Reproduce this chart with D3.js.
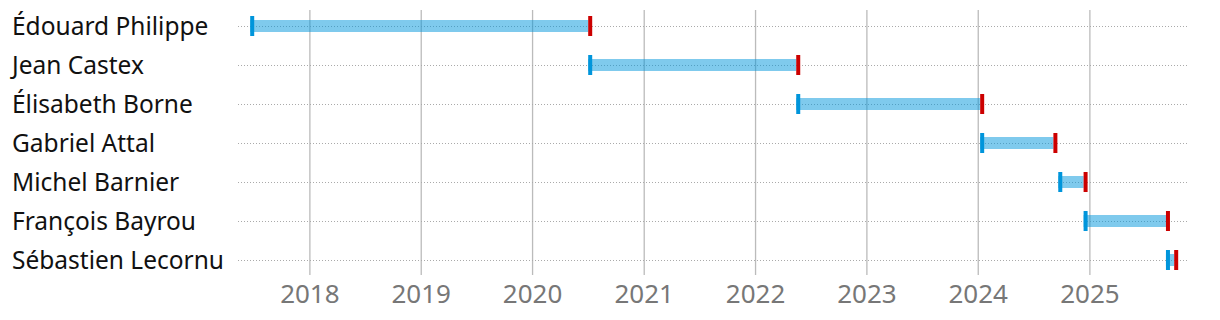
<!DOCTYPE html>
<html>
<head>
<meta charset="utf-8">
<script src="https://cdn.jsdelivr.net/npm/d3@7"></script>
<style>
  body { margin: 0; background: #fff; }
  text { font-family: "Noto Sans", sans-serif; }
</style>
</head>
<body>
<script>
const names = ['Édouard Philippe', 'Jean Castex', 'Élisabeth Borne', 'Gabriel Attal',
  'Michel Barnier', 'François Bayrou', 'Sébastien Lecornu'];
const starts = ['2017-06-21', '2020-07-03', '2022-05-16', '2024-01-09',
  '2024-09-21', '2024-12-13', '2025-09-09'];
const ends = ['2020-07-03', '2022-05-16', '2024-01-09', '2024-09-05',
  '2024-12-13', '2025-09-09', '2025-10-06'];
const years = [2018, 2019, 2020, 2021, 2022, 2023, 2024, 2025];
const domain = ['2017-05-12', '2025-11-17'];

const parse = d3.utcParse('%Y-%m-%d');
const rows = names.map((n, i) => ({ name: n, start: parse(starts[i]), end: parse(ends[i]) }));

class Timeline {
  constructor(rows) {
    this.rows = rows;
    this.width = 1220;
    this.height = 320;
    this.blue = '#0095db';
    this.red = '#cc0000';
    this.markW = 4;
    this.markH = 20;
    this.barH = 12;

    this.x = d3.scaleUtc()
      .domain(domain.map(parse))
      .range([238, 1187]);
    this.y = d3.scalePoint()
      .domain(names)
      .range([26, 260]);
    this.draw();
  }

  draw() {
    const svg = d3.select('body')
      .append('svg')
      .attr('width', this.width)
      .attr('height', this.height);

    // year gridlines
    const xAxis = d3.axisBottom(this.x)
      .tickValues(years.map(yr => new Date(Date.UTC(yr, 0, 1))))
      .tickFormat(d3.utcFormat('%Y'))
      .tickSize(265);
    const gx = svg.append('g')
      .attr('transform', 'translate(0,10)')
      .call(xAxis);
    gx.select('.domain').remove();
    gx.selectAll('.tick line')
      .attr('stroke', '#bbb')
      .attr('stroke-width', 1.3);
    gx.selectAll('.tick text')
      .attr('y', 293)
      .attr('dy', 0)
      .attr('fill', '#777')
      .style('font-size', '26px');

    // row guides
    svg.append('g')
      .selectAll('line')
      .data(names)
      .join('line')
      .attr('x1', this.x.range()[0])
      .attr('x2', this.x.range()[1])
      .attr('y1', d => this.y(d) + 0.5)
      .attr('y2', d => this.y(d) + 0.5)
      .attr('stroke', '#aaa')
      .attr('stroke-dasharray', '1,2');

    // names
    svg.append('g')
      .selectAll('text')
      .data(names)
      .join('text')
      .attr('x', 12)
      .attr('y', d => this.y(d) + 8.5)
      .attr('fill', '#111')
      .style('font-size', '24.5px')
      .text(d => d);

    const g = svg.append('g');
    g.selectAll('.bar')
      .data(this.rows)
      .join('rect')
      .attr('class', 'bar')
      .attr('x', d => this.x(d.start))
      .attr('y', d => this.y(d.name) - this.barH / 2)
      .attr('width', d => this.x(d.end) - this.x(d.start))
      .attr('height', this.barH)
      .attr('fill', this.blue)
      .attr('fill-opacity', 0.5);

    g.selectAll('.start')
      .data(this.rows)
      .join('rect')
      .attr('class', 'start')
      .attr('x', d => this.x(d.start))
      .attr('y', d => this.y(d.name) - this.markH / 2)
      .attr('width', this.markW)
      .attr('height', this.markH)
      .attr('fill', this.blue);

    g.selectAll('.end')
      .data(this.rows)
      .join('rect')
      .attr('class', 'end')
      .attr('x', d => this.x(d.end))
      .attr('y', d => this.y(d.name) - this.markH / 2)
      .attr('width', this.markW)
      .attr('height', this.markH)
      .attr('fill', this.red);
  }
}

new Timeline(rows);
</script>
</body>
</html>
